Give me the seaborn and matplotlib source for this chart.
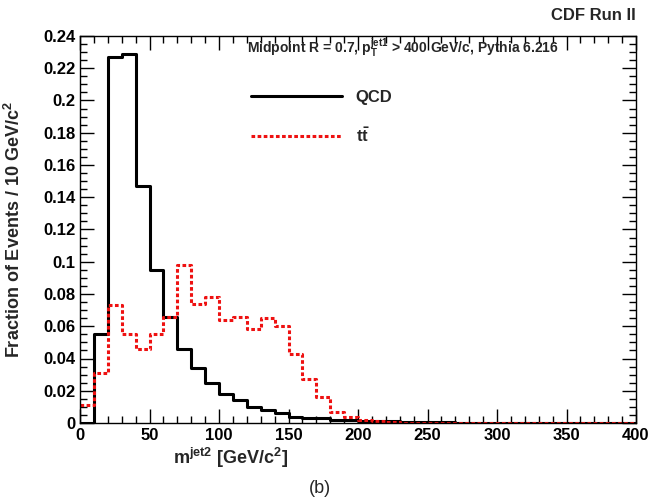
import numpy as np
import pandas as pd
import matplotlib
matplotlib.use("Agg")
import matplotlib.pyplot as plt
import seaborn as sns

sns.set_theme(style="white")
plt.rcParams['font.family'] = ['Liberation Sans', 'DejaVu Sans']
plt.rcParams['mathtext.fontset'] = 'custom'
plt.rcParams['mathtext.rm'] = 'Liberation Sans:bold'
plt.rcParams['mathtext.it'] = 'Liberation Sans:bold'
plt.rcParams['mathtext.bf'] = 'Liberation Sans:bold'

bin_edges = np.arange(0, 410, 10)
qcd = [0.0, 0.055, 0.227, 0.229, 0.147, 0.095, 0.066, 0.046, 0.034, 0.025,
       0.018, 0.014, 0.010, 0.008, 0.006, 0.004, 0.003, 0.003, 0.002, 0.002,
       0.0015, 0.001, 0.001, 0.0008, 0.0006, 0.0005, 0.0004, 0.0003, 0.0003, 0.0002,
       0.0002, 0.0002, 0.0001, 0.0001, 0.0001, 0.0001, 0.0001, 0.0, 0.0, 0.0]
ttbar = [0.011, 0.031, 0.073, 0.055, 0.046, 0.055, 0.066, 0.098, 0.074, 0.078,
         0.064, 0.066, 0.058, 0.065, 0.060, 0.043, 0.027, 0.016, 0.007, 0.004,
         0.002, 0.001, 0.0005, 0.0003, 0.0002, 0.0001, 0.0001, 0.0, 0.0, 0.0,
         0.0, 0.0, 0.0, 0.0, 0.0, 0.0, 0.0, 0.0, 0.0, 0.0]

df = pd.DataFrame({"m": bin_edges[:-1] + 5, "qcd": qcd, "tt": ttbar})

fig = plt.figure(figsize=(6.52, 5.03), dpi=100)
ax = fig.add_axes([80/652, 80/503, 556/652, 387/503])

sns.histplot(data=df, x="m", weights="qcd", binwidth=10, binrange=(0, 400), element="step", fill=False,
             color="black", linewidth=2.2, ax=ax, label="QCD")
sns.histplot(data=df, x="m", weights="tt", binwidth=10, binrange=(0, 400), element="step", fill=False,
             color="#ee1111", linewidth=2.2, linestyle=(0, (1.2, 0.8)), ax=ax, label=r"t$\bar{\mathrm{t}}$")

ax.set_xlim(0, 400)
ax.set_ylim(0, 0.24)
ax.set_xticks(np.arange(0, 401, 50))
ax.set_xticks(np.arange(0, 401, 10), minor=True)
ax.set_yticks(np.arange(0, 0.241, 0.02))
ax.set_yticks(np.arange(0, 0.241, 0.005), minor=True)
ax.set_yticklabels(["0"] + [f"{v:g}" for v in np.arange(0.02, 0.241, 0.02)])
for axis in (ax.xaxis, ax.yaxis):
    axis.set_tick_params(which='major', direction='in', length=10, width=1.0, color='black',
                         labelsize=12, labelcolor='black')
    axis.set_tick_params(which='minor', direction='in', length=5, width=1.0, color='black')
ax.xaxis.set_ticks_position('both')
ax.yaxis.set_ticks_position('both')
for lab in ax.get_xticklabels() + ax.get_yticklabels():
    lab.set_fontweight('bold')
for s in ax.spines.values():
    s.set_linewidth(1.0)
    s.set_color('black')

ax.set_xlabel(r"m$^{\mathrm{jet2}}$ [GeV/c$^{\mathrm{2}}$]", fontsize=13, fontweight='bold', x=0.27, labelpad=2)
ax.set_ylabel(r"Fraction of Events / 10 GeV/c$^{\mathrm{2}}$", fontsize=13, fontweight='bold')
ax.yaxis.set_label_coords(-0.1, 0.5)

ax.text(0.3, 0.955, r"Midpoint R = 0.7, p$_{\mathrm{T}}^{\mathrm{jet1}}$ > 400 GeV/c, Pythia 6.216",
        transform=ax.transAxes, fontsize=10, fontweight='bold')
fig.text(0.975, 0.96, "CDF Run II", ha='right', fontsize=12, fontweight='bold')
fig.text(0.49, 0.02, "(b)", ha='center', fontsize=13)

ax.legend(loc='upper left', bbox_to_anchor=(0.28, 0.9), frameon=False,
          handlelength=5.5, labelspacing=1.3, prop={'weight': 'bold', 'size': 12})

fig.savefig("out.png", dpi=100)
